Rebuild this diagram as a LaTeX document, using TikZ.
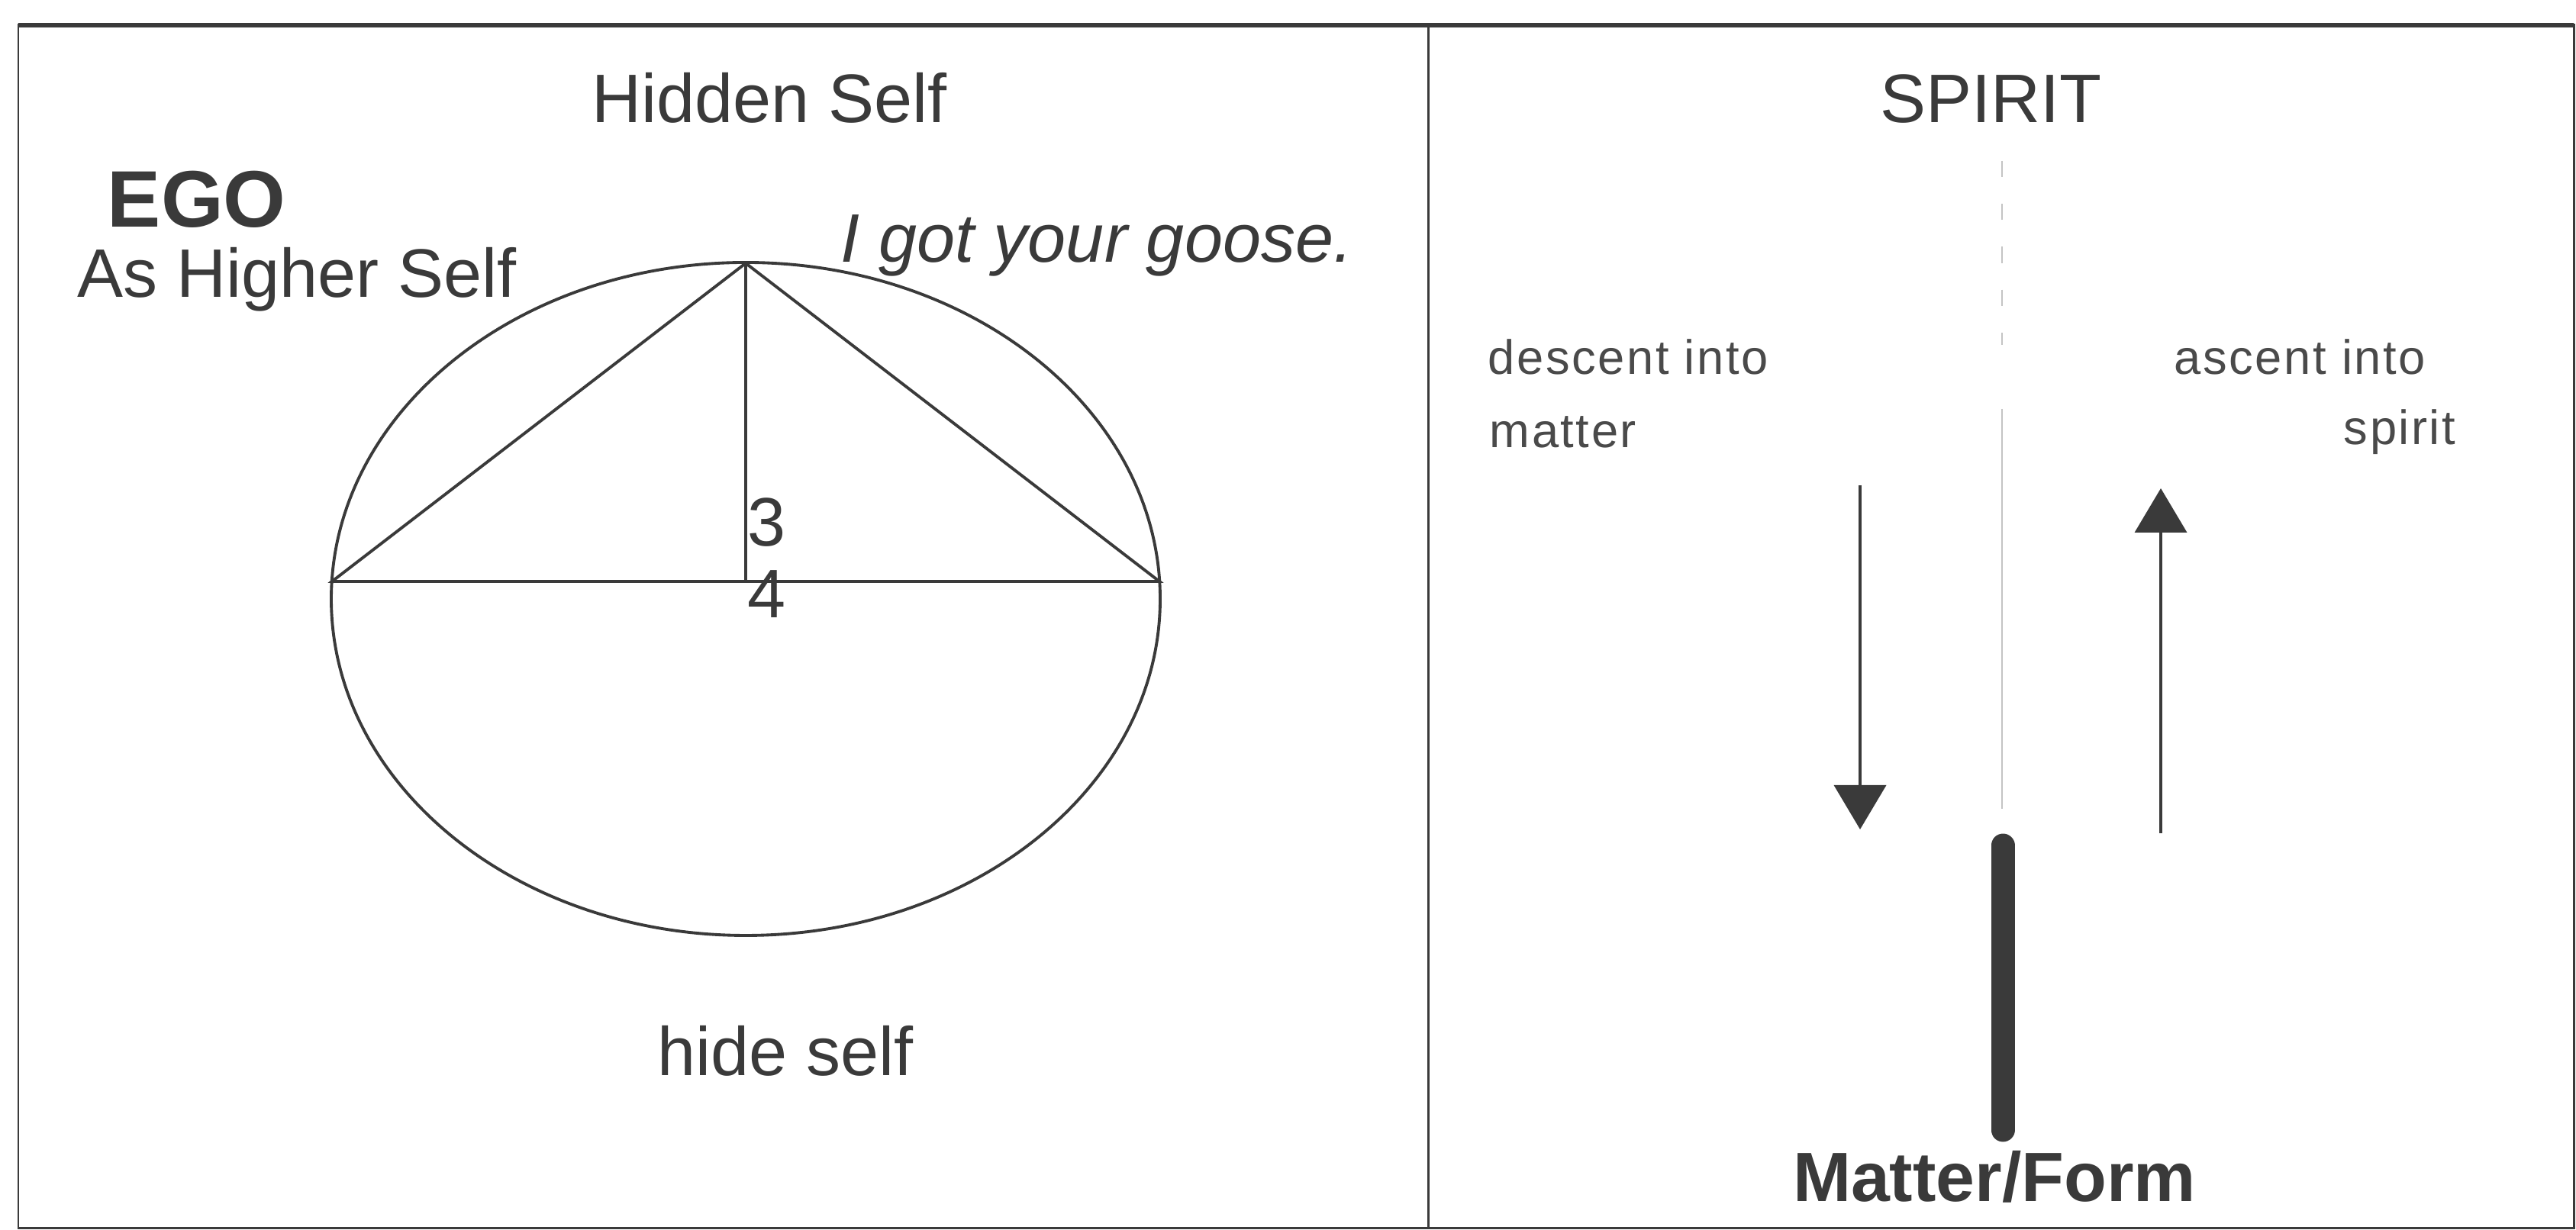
\documentclass[tikz,border=0pt]{standalone}
\usepackage{fontspec}
\setmainfont{Liberation Sans}
\setsansfont{Liberation Sans}
\newfontfamily\spacedfont[LetterSpace=4]{Liberation Sans}
\usetikzlibrary{arrows.meta}

\definecolor{ink}{HTML}{3A3A3A}
\definecolor{softink}{HTML}{4A4A4A}
\definecolor{faint}{HTML}{C4C4C4}

\tikzset{
  bigtxt/.style={inner sep=0pt, text=ink, font=\fontsize{25.6}{30}\selectfont},
  egotxt/.style={inner sep=0pt, text=ink, font=\fontsize{29.9}{34}\selectfont\bfseries},
  smalltxt/.style={inner sep=0pt, text=softink, font=\spacedfont\fontsize{18}{21}\selectfont},
  formtxt/.style={inner sep=0pt, text=ink, font=\fontsize{26}{30}\selectfont\bfseries}
}

\begin{document}
\begin{tikzpicture}[line width=1.1pt, >={Triangle[length=5.8mm,width=6.8mm]}, font=\sffamily]

        \useasboundingbox (0,0) rectangle (33.75,16.12);

        % 1. Cornice e divisore
        \draw[ink, line width=0.85pt] (0.24,0.02) rectangle (33.72,15.79);
        \draw[ink, line width=1.5pt] (0.24,15.79) -- (33.72,15.79);
        \draw[ink, line width=0.85pt] (18.71,0.02) -- (18.71,15.79);

        % 2. Ellisse con triangolo
        \draw[ink] (9.77,8.27) ellipse (5.43cm and 4.41cm);
        \coordinate (apex) at (9.77,12.67);
        \coordinate (lft) at (4.35,8.50);
        \coordinate (rgt) at (15.19,8.50);
        \coordinate (foot) at (9.77,8.50);
        \draw[ink] (lft) -- (apex) -- (rgt) -- cycle;
        \draw[ink] (apex) -- (foot);

        % 3. Testi a sinistra
        \node[bigtxt, anchor=base] (hidden) at (10.08,14.51) {Hidden Self};
        \node[egotxt, anchor=base west] (ego) at (1.39,13.14) {EGO};
        \node[bigtxt, anchor=base west] (higher) at (1.00,12.22) {As Higher Self};
        \node[bigtxt, anchor=base west] (goose) at (11.00,12.68) {\itshape I got your goose.};
        \node[bigtxt, anchor=base west] (three) at (9.78,8.96) {3};
        \node[bigtxt, anchor=base west] (four) at (9.78,8.02) {4};
        \node[bigtxt, anchor=base] (hide) at (10.29,2.02) {hide self};

        % 4. Asse centrale a destra
        \coordinate (axtop) at (26.23,14.01);
        \coordinate (axmid) at (26.23,11.60);
        \coordinate (axlow) at (26.23,10.76);
        \coordinate (axend) at (26.23,5.52);
        \draw[faint, line width=0.5pt, dash pattern=on 6pt off 10pt] (axtop) -- (axmid);
        \draw[faint, line width=0.5pt] (axlow) -- (axend);

        % 5. Barra della materia
        \coordinate (bartop) at (26.24,5.04);
        \coordinate (barbot) at (26.24,1.31);
        \draw[ink, line width=8.8pt, line cap=round] (bartop) -- (barbot);

        % 6. Frecce discesa e ascesa
        \coordinate (dstart) at (24.37,9.76);
        \coordinate (dend) at (24.37,5.25);
        \coordinate (ustart) at (28.31,5.20);
        \coordinate (uend) at (28.31,9.72);
        \draw[->, ink] (dstart) -- (dend);
        \draw[->, ink] (ustart) -- (uend);

        % 7. Testi a destra
        \node[bigtxt, anchor=base] (spirit) at (26.08,14.51) {SPIRIT};
        \node[smalltxt, anchor=base west] (desc) at (19.48,11.21) {descent into};
        \node[smalltxt, anchor=base west] (matter) at (19.50,10.25) {matter};
        \node[smalltxt, anchor=base west] (asc) at (28.47,11.21) {ascent into};
        \node[smalltxt, anchor=base west] (spir) at (30.69,10.29) {spirit};
        \node[formtxt, anchor=base] (form) at (26.13,0.37) {Matter/Form};

    \end{tikzpicture}
\end{document}
